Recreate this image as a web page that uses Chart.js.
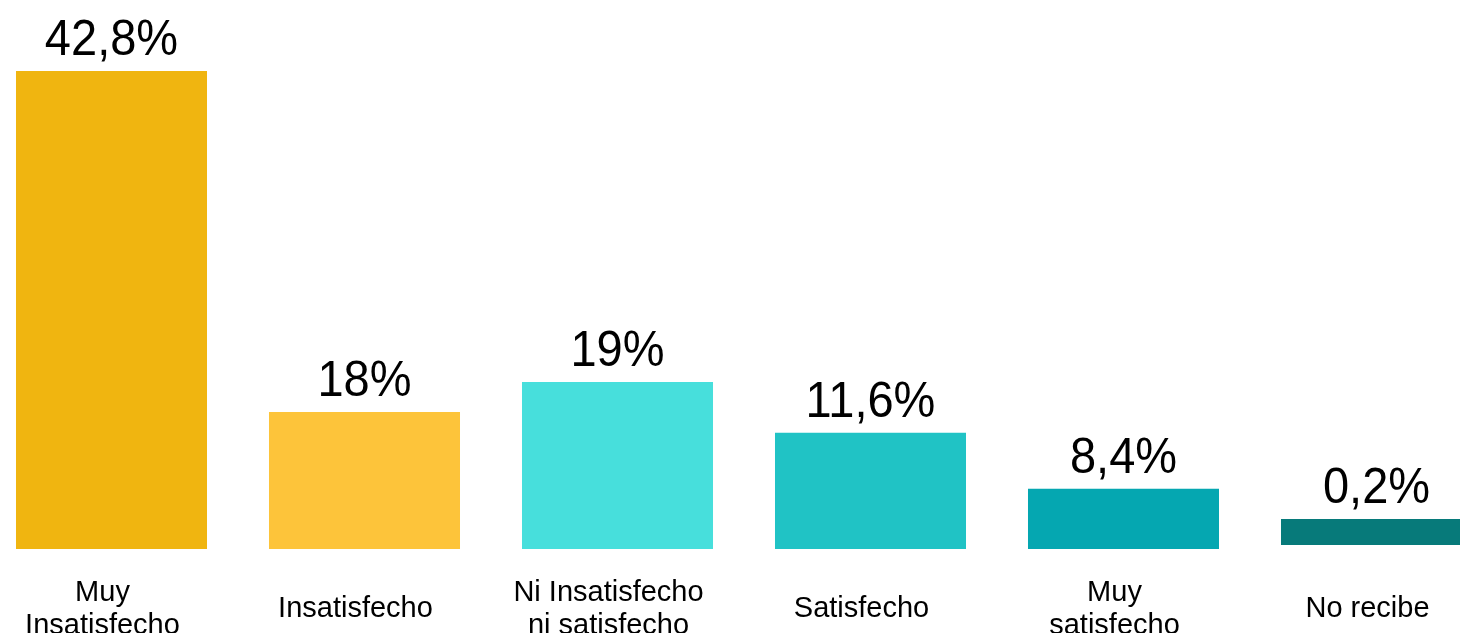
<!DOCTYPE html>
<html lang="es">
<head>
<meta charset="utf-8">
<title>Satisfacción</title>
<script src="https://cdn.jsdelivr.net/npm/chart.js@4"></script>
<style>
  html, body { margin: 0; padding: 0; background: #fff; overflow: hidden; }
  #contenedor { position: absolute; left: -15px; top: 0; width: 1518px; height: 633px; }
</style>
</head>
<body>
<div id="contenedor"><canvas id="satisfaccion"></canvas></div>
<script>
const categorias = [
  ['Muy', 'Insatisfecho'],
  ['Insatisfecho'],
  ['Ni Insatisfecho', 'ni satisfecho'],
  ['Satisfecho'],
  ['Muy', 'satisfecho'],
  ['No recibe']
];
// valores que muestra cada etiqueta
const porcentajes = ['42,8%', '18%', '19%', '11,6%', '8,4%', '0,2%'];
// altura de las barras tal como se ven en el gráfico (no proporcional a la etiqueta)
const alturas = [42.8, 12.27, 14.95, 10.41, 5.4, 2.69];
const bases = [0, 0, 0, 0, 0, 0.36];
const colores = ['#F0B510', '#FDC43A', '#47DFDC', '#20C3C5', '#05A7B1', '#077A7A'];

const fuente = "'Liberation Sans', Arial, sans-serif";

const etiquetas = {
  id: 'etiquetas',
  afterDatasetsDraw(chart) {
    const ctx = chart.ctx;
    const barras = chart.getDatasetMeta(0).data;
    ctx.save();
    ctx.fillStyle = '#000';
    ctx.textAlign = 'center';
    ctx.textBaseline = 'alphabetic';
    barras.forEach((barra, i) => {
      // el texto de los valores es algo más alto que ancho en el original
      ctx.save();
      ctx.translate(barra.x, barra.y - 16);
      ctx.scale(1, 1.07);
      ctx.font = '47px ' + fuente;
      ctx.fillText(porcentajes[i], 0, 0);
      ctx.restore();

      ctx.font = '29px ' + fuente;
      const lineas = categorias[i];
      const base = lineas.length === 1 ? 617 : 600.5;
      lineas.forEach((linea, j) => {
        ctx.fillText(linea, barra.x - 9, base + j * 33);
      });
    });
    ctx.restore();
  }
};

const ctx = document.getElementById('satisfaccion');
new Chart(ctx, {
  type: 'bar',
  data: {
    labels: categorias.map((c) => c.join(' ')),
    datasets: [{
      data: alturas.map((v, i) => [bases[i], v]),
      backgroundColor: colores,
      borderWidth: 0,
      barPercentage: 0.755,
      categoryPercentage: 1
    }]
  },
  options: {
    responsive: true,
    maintainAspectRatio: false,
    animation: false,
    layout: { padding: { top: 0, bottom: 84, left: 0, right: 0 } },
    plugins: {
      legend: { display: false },
      title: { display: false },
      tooltip: { enabled: false }
    },
    scales: {
      x: { display: false },
      y: { display: false, min: 0, max: 49.16 }
    }
  },
  plugins: [etiquetas]
});
</script>
</body>
</html>
